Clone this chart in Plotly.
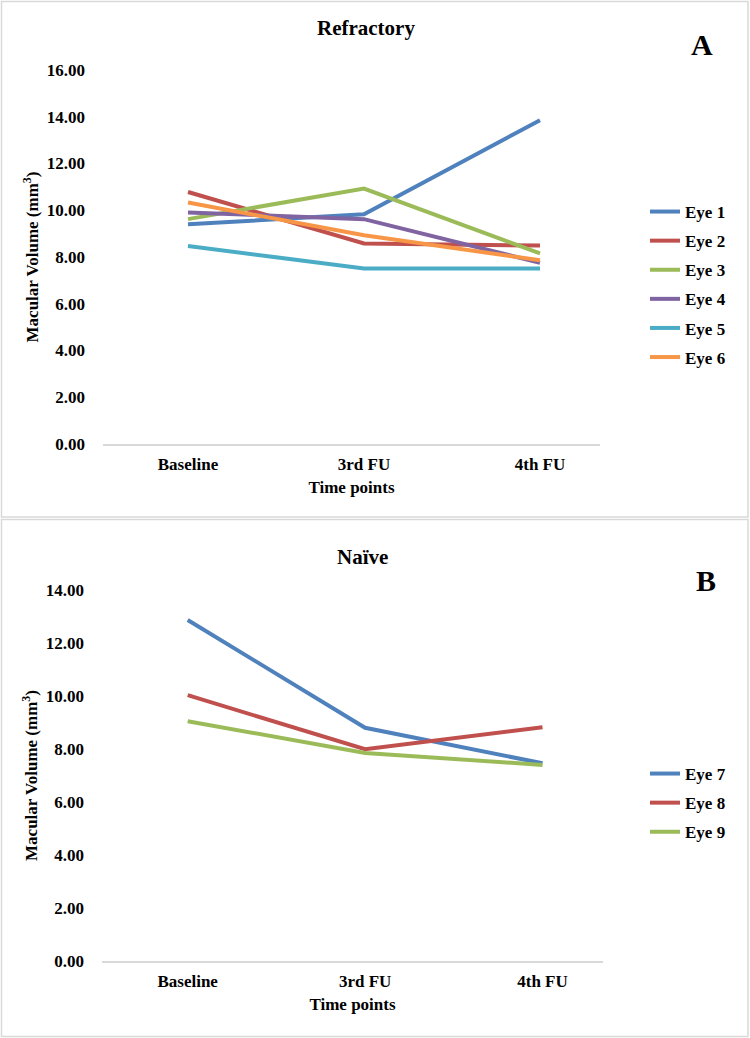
import plotly.graph_objects as go

time_points = ["Baseline", "3rd FU", "4th FU"]

refractory_names = ["Eye 1", "Eye 2", "Eye 3", "Eye 4", "Eye 5", "Eye 6"]
eye1 = [9.40, 9.83, 13.85]
eye2 = [10.78, 8.58, 8.49]
eye3 = [9.62, 10.93, 8.15]
eye4 = [9.90, 9.62, 7.75]
eye5 = [8.47, 7.51, 7.51]
eye6 = [10.33, 8.93, 7.86]
refractory_values = [eye1, eye2, eye3, eye4, eye5, eye6]
refractory_colors = ["#4F81BD", "#C0504D", "#9BBB59", "#8064A2", "#4BACC6", "#F79646"]

naive_names = ["Eye 7", "Eye 8", "Eye 9"]
eye7 = [12.87, 8.80, 7.46]
eye8 = [10.03, 7.99, 8.82]
eye9 = [9.05, 7.85, 7.40]
naive_values = [eye7, eye8, eye9]
naive_colors = ["#4F81BD", "#C0504D", "#9BBB59"]

FONT = "Liberation Serif"
W, H = 750, 1038

fig = go.Figure()

for name, vals, col in zip(refractory_names, refractory_values, refractory_colors):
    fig.add_trace(go.Scatter(x=time_points, y=vals, name=name, mode="lines",
                             line=dict(color=col, width=4), xaxis="x", yaxis="y",
                             legend="legend", legendgroup=name))
for name, vals, col in zip(naive_names, naive_values, naive_colors):
    fig.add_trace(go.Scatter(x=time_points, y=vals, name=name, mode="lines",
                             line=dict(color=col, width=4), xaxis="x2", yaxis="y2",
                             legend="legend2", legendgroup=name))

tickfont = dict(family=FONT, size=17, color="black", weight="bold")

def xax(domain, anchor):
    return dict(domain=domain, anchor=anchor, type="category", range=[-0.483, 2.341],
                showgrid=False, zeroline=False, showline=True, linecolor="#D9D9D9",
                linewidth=1.5, ticks="", tickfont=tickfont, automargin=False,
                ticklabelstandoff=4,
                title=dict(text="Time points", font=tickfont, standoff=8))

def yax(domain, anchor, rmax):
    return dict(domain=domain, anchor=anchor, range=[0, rmax], dtick=2, tickformat=".2f",
                showgrid=False, zeroline=False, showline=False, ticks="",
                tickfont=tickfont, ticklabelstandoff=17, automargin=False,
                title=dict(text="Macular Volume (mm<sup>3</sup>)", font=tickfont, standoff=3))

legfont = dict(family=FONT, size=17, color="black", weight="bold")

fig.update_layout(
    template="none",
    width=W, height=H,
    margin=dict(l=0, r=0, t=0, b=0, pad=0),
    paper_bgcolor="white", plot_bgcolor="white",
    xaxis=xax([103 / W, 600 / W], "y"),
    yaxis=yax([(H - 444) / H, (H - 70) / H], "x", 16),
    xaxis2=xax([102 / W, 603 / W], "y2"),
    yaxis2=yax([(H - 961) / H, (H - 590) / H], "x2", 14),
    legend=dict(x=645 / W, y=(H - 194) / H, xanchor="left", yanchor="top",
                font=legfont, bgcolor="rgba(0,0,0,0)", tracegroupgap=4),
    legend2=dict(x=645 / W, y=(H - 756) / H, xanchor="left", yanchor="top",
                 font=legfont, bgcolor="rgba(0,0,0,0)", tracegroupgap=4),
    showlegend=True,
)

# panel boxes
fig.add_shape(type="rect", xref="paper", yref="paper", x0=1.5 / W, x1=748 / W,
              y0=(H - 517) / H, y1=(H - 1.5) / H, line=dict(color="#D9D9D9", width=1.5))
fig.add_shape(type="rect", xref="paper", yref="paper", x0=1.5 / W, x1=748 / W,
              y0=1.5 / H, y1=(H - 519.5) / H, line=dict(color="#D9D9D9", width=1.5))

titlefont = dict(family=FONT, size=21, color="black", weight="bold")
letterfont = dict(family=FONT, size=30, color="black", weight="bold")
fig.add_annotation(text="Refractory", x=366 / W, y=(H - 28) / H, xref="paper", yref="paper",
                   showarrow=False, font=titlefont, xanchor="center", yanchor="middle")
fig.add_annotation(text="A", x=702 / W, y=(H - 45) / H, xref="paper", yref="paper",
                   showarrow=False, font=letterfont, xanchor="center", yanchor="middle")
fig.add_annotation(text="Naïve", x=362 / W, y=(H - 557) / H, xref="paper", yref="paper",
                   showarrow=False, font=titlefont, xanchor="center", yanchor="middle")
fig.add_annotation(text="B", x=706 / W, y=(H - 580) / H, xref="paper", yref="paper",
                   showarrow=False, font=letterfont, xanchor="center", yanchor="middle")

fig.write_html("out.html")
